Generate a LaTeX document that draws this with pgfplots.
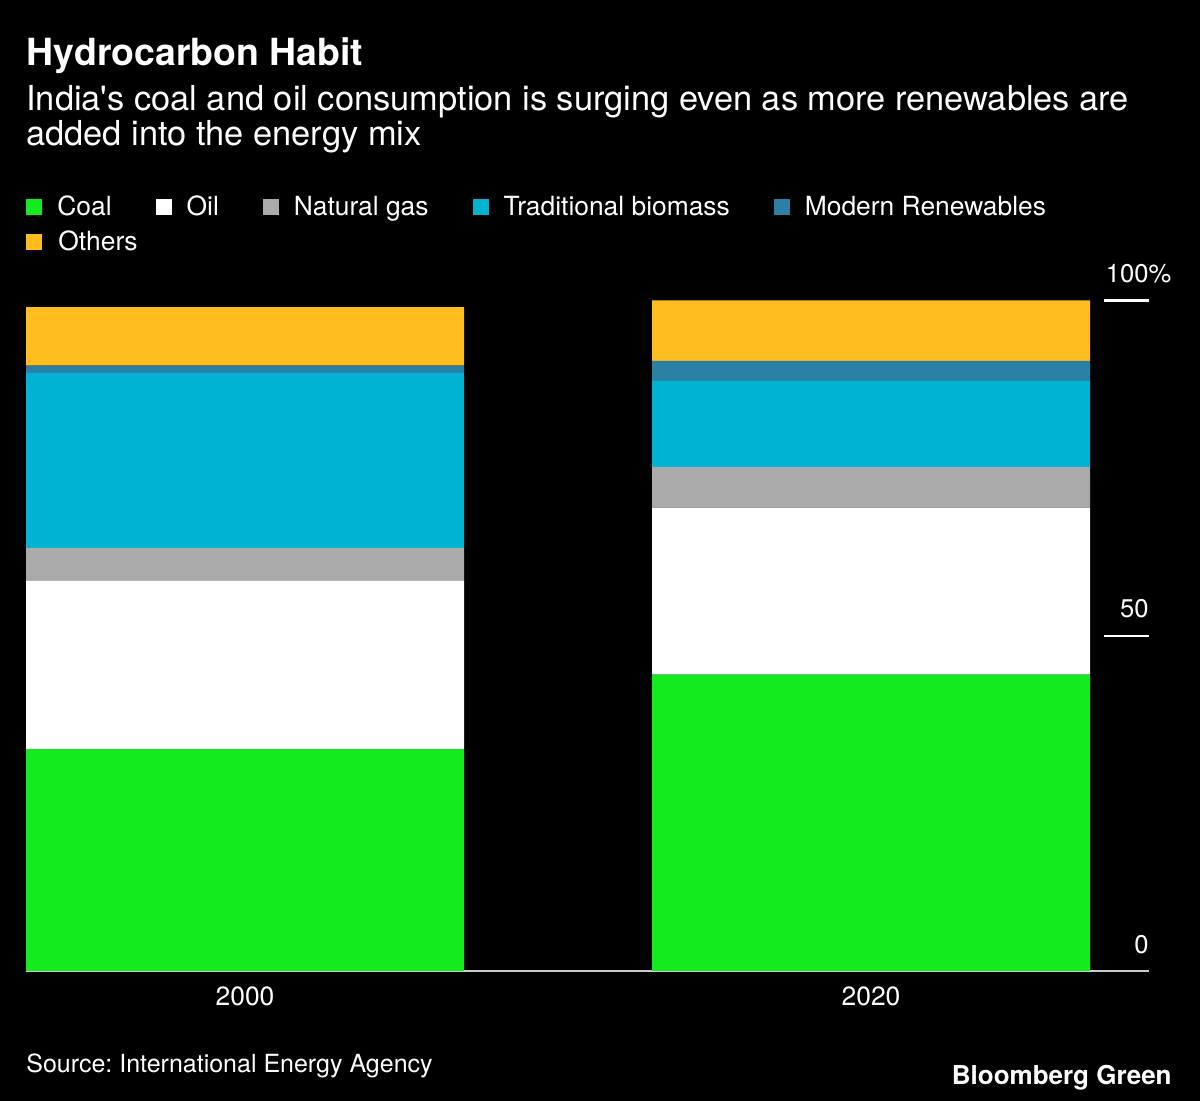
\documentclass[border=0pt]{standalone}
\usepackage{fontspec}
\setmainfont{TeX Gyre Heros}
\newfontfamily\plainquotes[Ligatures=TeXOff]{TeX Gyre Heros}
\usepackage{pgfplots}
\pgfplotsset{compat=1.18}

\definecolor{coal}{HTML}{14EB1F}
\definecolor{gas}{HTML}{AAAAAA}
\definecolor{tradbio}{HTML}{00B3D2}
\definecolor{modren}{HTML}{2B80A6}
\definecolor{others}{HTML}{FFBC1F}
\definecolor{axisgrey}{HTML}{CCCCCC}

% shares of primary energy, %
\pgfplotstableread{
x    coal oil  gas tradbio modren others
245  33.1 25.1 4.9 26.1    1.1    8.7
871  44.2 24.9 6.1 12.8    3.0    9.0
}\mixdata

\begin{document}
\frenchspacing
\begin{tikzpicture}
% page background, 1px = 0.5pt, axis origin at px (26,971)
\fill[black] (-13pt,-65pt) rectangle (587pt,485.5pt);

\begin{axis}[
  at={(0,0)}, anchor=south west,
  scale only axis, width=561.5pt, height=335.25pt,
  xmin=26, xmax=1149, ymin=0, ymax=100,
  ybar stacked, bar width=438,
  axis x line*=bottom, axis y line*=right,
  x axis line style={-, draw=axisgrey, line width=1pt},
  y axis line style={draw=none},
  xtick={245,871}, xticklabels={2000,2020},
  major x tick style={draw=none},
  xticklabel style={anchor=base, inner sep=0pt, yshift=-17.5pt,
    font=\fontsize{13.2}{15}\selectfont, text=white},
  ytick={0,50,100}, yticklabels={0,50,100\rlap{\%}},
  ytick align=inside, major tick length=22.5pt,
  major y tick style={draw=white, line width=1.2pt},
  yticklabel style={anchor=south east, inner sep=0pt, yshift=8.5pt,
    font=\fontsize{12.8}{15}\selectfont, text=white},
  /pgf/number format/assume math mode=true,
  legend columns=5,
  legend style={at={(0,1.1573)}, anchor=north west, draw=none, fill=none,
    inner sep=0pt, text=white, font=\fontsize{13.2}{15}\selectfont,
    cells={anchor=base west},
    nodes={inner sep=0pt, text height=10pt, text depth=3pt},
    row sep=4.5pt,
    /tikz/every odd column/.append style={column sep=7.5pt},
    /tikz/every even column/.append style={column sep=22pt}},
  legend image code/.code={\fill[#1] (0pt,0pt) rectangle (8pt,8pt);},
]
\addplot[fill=coal, draw=none] table[x=x, y=coal] {\mixdata};
\addplot[fill=white, draw=none] table[x=x, y=oil] {\mixdata};
\addplot[fill=gas, draw=none] table[x=x, y=gas] {\mixdata};
\addplot[fill=tradbio, draw=none] table[x=x, y=tradbio] {\mixdata};
\addplot[fill=modren, draw=none] table[x=x, y=modren] {\mixdata};
\addplot[fill=others, draw=none] table[x=x, y=others] {\mixdata};
\legend{Coal, Oil, Natural gas, Traditional biomass, Modern Renewables, \rlap{Others}}
\end{axis}

% titles and notes
\node[anchor=base west, inner sep=0pt, text=white,
  font=\fontsize{18.7}{22}\selectfont\bfseries] at (0pt,452.5pt) {Hydrocarbon Habit};
\node[anchor=base west, inner sep=0pt, text=white,
  font=\plainquotes\fontsize{17.2}{20}\selectfont] at (0pt,430pt)
  {India's coal and oil consumption is surging even as more renewables are};
\node[anchor=base west, inner sep=0pt, text=white,
  font=\fontsize{17.2}{20}\selectfont] at (0pt,412.5pt) {added into the energy mix};
\node[anchor=base west, inner sep=0pt, text=white,
  font=\fontsize{12.5}{15}\selectfont] at (0pt,-51pt) {Source: International Energy Agency};
\node[anchor=base east, inner sep=0pt, text=white,
  font=\fontsize{13}{15}\selectfont\bfseries] at (573pt,-57pt) {Bloomberg Green};

\pgfresetboundingbox
\path[use as bounding box] (-13pt,-65pt) rectangle (587pt,485.5pt);
\end{tikzpicture}
\end{document}
